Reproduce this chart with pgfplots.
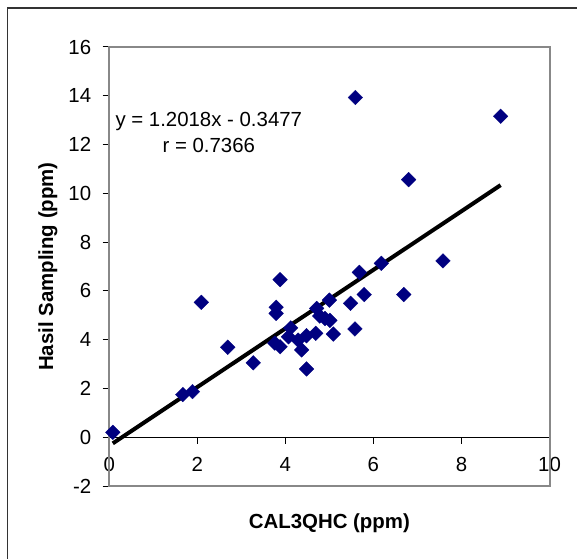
\documentclass[border=0pt]{standalone}
\usepackage{pgfplots}
\pgfplotsset{compat=1.18}
\usepackage{fontspec}
\setmainfont{Liberation Sans}
\definecolor{navy}{RGB}{0,0,128}
\definecolor{framegray}{RGB}{136,136,136}
\definecolor{outergray}{RGB}{51,51,51}
\newcommand{\fs}{\fontsize{20.4bp}{24.5bp}\selectfont}
\begin{document}
\begin{tikzpicture}
\path[use as bounding box] (-109.3bp,-73bp) rectangle (467.7bp,486bp);
\draw[outergray, line width=1.4bp] (-101.8bp,-80bp) -- (-101.8bp,478bp) -- (480bp,478bp);
\begin{axis}[
  at={(0,0)}, anchor=south west,
  scale only axis,
  width=440.2bp, height=439bp,
  xmin=0, xmax=10, ymin=-2, ymax=16,
  axis x line=middle, axis y line=left,
  axis line style={-},
  x axis line style={black, line width=1bp},
  y axis line style={black, line width=1.6bp},
  xtick={0,2,...,10}, ytick={-2,0,...,16},
  tick align=outside,
  major tick length=6.6bp,
  tick style={black, line width=1bp},
  hide obscured x ticks=false, hide obscured y ticks=false,
  /pgf/number format/assume math mode=true,
  tick label style={font=\fs},
  xticklabel style={anchor=north, yshift=-10bp},
  yticklabel style={anchor=east, xshift=-8bp},
  xlabel={\textbf{CAL3QHC (ppm)}},
  ylabel={\textbf{Hasil Sampling (ppm)}},
  label style={font=\fs},
  xlabel style={at={(axis description cs:0.5,0)}, anchor=center, yshift=-37bp},
  ylabel style={at={(axis description cs:-0.1397,0.5)}, anchor=center},
  clip=false,
]
\draw[framegray, line width=2bp] (rel axis cs:0,0) rectangle (rel axis cs:1,1);
\addplot[only marks, mark=square*, mark size=5.2bp,
  mark options={rotate=45, fill=navy, draw=navy, line width=0.3bp}]
  coordinates {
  (0.08,0.20) (1.67,1.75) (1.89,1.87) (2.09,5.53) (2.69,3.69) (3.27,3.05)
  (3.76,3.86) (3.79,5.33) (3.79,5.08) (3.88,6.46) (3.88,3.71) (4.07,4.12)
  (4.12,4.48) (4.29,3.98) (4.37,3.58) (4.48,4.16) (4.48,2.80) (4.69,4.26)
  (4.71,5.28) (4.78,4.97) (4.90,4.87) (5.01,4.79) (5.00,5.62) (5.09,4.23)
  (5.48,5.49) (5.58,4.44) (5.59,13.93) (5.68,6.76) (5.79,5.85) (6.18,7.13)
  (6.69,5.85) (6.80,10.56) (7.58,7.23) (8.89,13.16)
  };
\addplot[black, line width=4bp] coordinates {(0.08,-0.252) (8.89,10.336)};
\node[font=\fs, align=center, inner sep=0pt] at (axis cs:2.26,12.51)
  {y = 1.2018x - 0.3477\\[1.5bp]r = 0.7366};
\end{axis}
\end{tikzpicture}
\end{document}
